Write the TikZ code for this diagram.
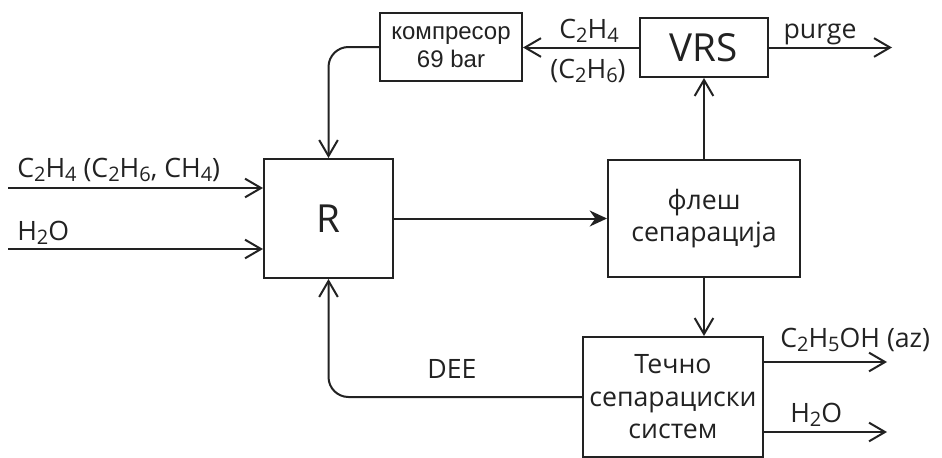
\documentclass[tikz,border=0pt]{standalone}
\usepackage{fontspec}
\setmainfont{Open Sans}
\newfontfamily\compfont{Liberation Sans}
\usetikzlibrary{arrows.meta}
\definecolor{flowink}{RGB}{34,34,34}
\newcommand\lowix[1]{\raisebox{-0.3ex}{\fontsize{15}{15}\selectfont #1}}
\tikzset{
  flowbox/.style={draw=flowink, line width=1.5pt, fill=white, align=center,
    inner sep=2pt, text=flowink, font=\fontsize{20}{24.4}\selectfont},
  flowbig/.style={font=\fontsize{29}{34}\selectfont},
  flowline/.style={draw=flowink, line width=1.5pt},
  flowarrow/.style={flowline, -{Straight Barb[length=12pt,width=14pt]}},
  flowfilled/.style={flowline, -{Stealth[length=13pt,width=12pt]}},
  flowlabel/.style={text=flowink, inner sep=0pt, font=\fontsize{20}{24.4}\selectfont},
}
\begin{document}
\begin{tikzpicture}[x=0.75pt, y=-0.75pt]
  \useasboundingbox (0,0) rectangle (942,457);
  % units
  \node[flowbox, flowbig, minimum width=96.75pt, minimum height=89.25pt] (reactor) at (328.5,218.5) {R};
  \node[flowbox, minimum width=144pt, minimum height=87.75pt] (flash) at (704,218.5) {флеш\\сепарација};
  \node[flowbox, flowbig, minimum width=96pt, minimum height=44.25pt] (vrs) at (704,47.5) {VRS};
  \node[flowbox, minimum width=106.5pt, minimum height=51pt,
    font=\compfont\fontsize{18}{20.5}\selectfont] (compressor) at (451,47) {компресор\\69 bar};
  \node[flowbox, minimum width=135pt, minimum height=90pt] (liquidsep) at (673,397) {Течно\\сепарациски\\систем};
  % free ends
  \coordinate (feedin) at (8,188);
  \coordinate (waterin) at (8,249);
  \coordinate (purgeout) at (892,47.5);
  \coordinate (ethanolout) at (887,362);
  \coordinate (waterout) at (887,432);
  % streams
  \draw[flowarrow] (feedin) -- (feedin -| reactor.west);
  \draw[flowarrow] (waterin) -- (waterin -| reactor.west);
  \draw[flowfilled] (reactor.east) -- (flash.west);
  \draw[flowarrow] (flash.north) -- (vrs.south);
  \draw[flowarrow] (vrs.west) -- (vrs.west -| compressor.east);
  \draw[flowarrow] (vrs.east) -- (purgeout);
  \draw[flowarrow, rounded corners=15pt] (compressor.west) -| (reactor.north);
  \draw[flowarrow] (flash.south) -- (flash.south |- liquidsep.north);
  \draw[flowarrow, rounded corners=15pt] (liquidsep.west) -| (reactor.south);
  \draw[flowarrow] (ethanolout -| liquidsep.east) -- (ethanolout);
  \draw[flowarrow] (waterout -| liquidsep.east) -- (waterout);
  % labels
  \node[flowlabel, anchor=base west] (feedlabel) at (17,177) {C\lowix{2}H\lowix{4} (C\lowix{2}H\lowix{6}, CH\lowix{4})};
  \node[flowlabel, anchor=base west] (waterlabel) at (17,240) {H\lowix{2}O};
  \node[flowlabel, anchor=base] (recyclelabel) at (589,38) {C\lowix{2}H\lowix{4}};
  \node[flowlabel, anchor=base] (ethanelabel) at (588,78) {(C\lowix{2}H\lowix{6})};
  \node[flowlabel, anchor=base] (purgelabel) at (820,38) {purge};
  \node[flowlabel, anchor=base] (deelabel) at (452,378) {DEE};
  \node[flowlabel, anchor=base west] (ethanollabel) at (780,347) {C\lowix{2}H\lowix{5}OH (az)};
  \node[flowlabel, anchor=base west] (waterprodlabel) at (790,422) {H\lowix{2}O};
\end{tikzpicture}
\end{document}
